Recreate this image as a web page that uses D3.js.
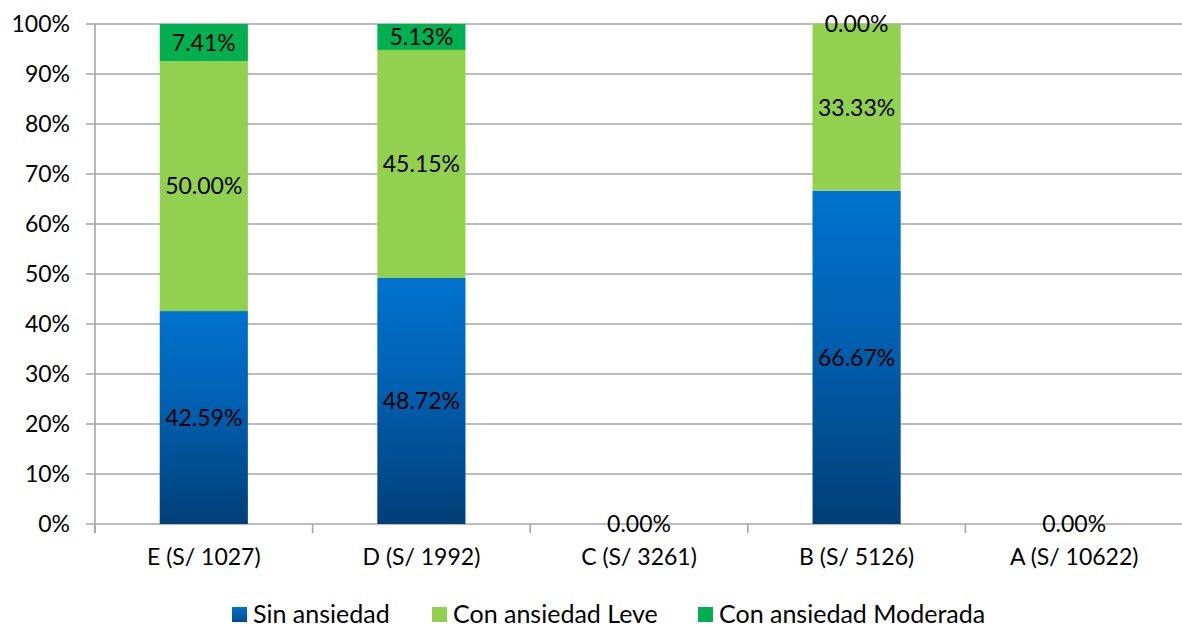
<!DOCTYPE html>
<html><head><meta charset="utf-8">
<script src="https://cdn.jsdelivr.net/npm/d3@7"></script>
<style>body{margin:0;background:#fff}svg{display:block}text{font-family:Lato,"Open Sans",sans-serif}</style>
</head><body><svg id="c" width="1182" height="627"></svg>
<script>
const categories = ["E (S/ 1027)","D (S/ 1992)","C (S/ 3261)","B (S/ 5126)","A (S/ 10622)"];
const seriesNames = ["Sin ansiedad","Con ansiedad Leve","Con ansiedad Moderada"];
const sinAnsiedad = [42.59, 48.72, 0, 66.67, 0];
const leve = [50.00, 45.15, 0, 33.33, 0];
const moderada = [7.41, 5.13, 0, 0.00, 0];
const yTicks = [0,10,20,30,40,50,60,70,80,90,100];
const showLabel = [[true,true,true,true,true],[true,true,false,true,false],[true,true,false,true,false]];

const svg = d3.select("#c");
const m = {l:95, r:1183, t:24, b:524};
const x = d3.scaleBand().domain(categories).range([m.l, m.r]).paddingInner(0.595).paddingOuter(0.2975);
const xb = d3.scaleBand().domain(categories).range([m.l, m.r]);
const y = d3.scaleLinear().domain([0,1]).range([m.b, m.t]);

const defs = svg.append("defs");
const g1 = defs.append("linearGradient").attr("id","gBlue").attr("x1",0).attr("y1",0).attr("x2",0).attr("y2",1);
g1.append("stop").attr("offset","0%").attr("stop-color","#0072CE");
g1.append("stop").attr("offset","40%").attr("stop-color","#0062B4");
g1.append("stop").attr("offset","100%").attr("stop-color","#003F78");
const gl = defs.append("linearGradient").attr("id","gLeg").attr("x1",0).attr("y1",0).attr("x2",0).attr("y2",1);
gl.append("stop").attr("offset","0%").attr("stop-color","#0072CE");
gl.append("stop").attr("offset","100%").attr("stop-color","#004A8A");

svg.append("g").selectAll("line").data(yTicks).join("line")
  .attr("x1", m.l-9).attr("x2", 1182).attr("y1", d=>y(d/100)).attr("y2", d=>y(d/100))
  .attr("stroke","#A6A6A6").attr("stroke-width",1.6);

svg.append("line").attr("x1",m.l).attr("x2",m.l).attr("y1",m.t).attr("y2",m.b+9).attr("stroke","#A6A6A6").attr("stroke-width",1.6);
svg.append("g").selectAll("line").data(categories).join("line")
  .attr("x1", d=>xb(d)).attr("x2", d=>xb(d)).attr("y1", m.b).attr("y2", m.b+9)
  .attr("stroke","#A6A6A6").attr("stroke-width",1.6);

svg.append("g").selectAll("text").data(yTicks).join("text")
  .attr("x", 70).attr("y", d=>y(d/100)).attr("dy","0.36em").attr("text-anchor","end")
  .attr("font-size",23).attr("fill","#000").text(d=>d+"%");

const rows = categories.map((c,i)=>({cat:c, s0:sinAnsiedad[i], s1:leve[i], s2:moderada[i]}));
const stack = d3.stack().keys(["s0","s1","s2"]).offset(d3.stackOffsetExpand)(rows);
const raw = [sinAnsiedad, leve, moderada];
const fills = ["url(#gBlue)","#92D050","#00B050"];

stack.forEach((layer,k)=>{
  svg.append("g").selectAll("rect").data(layer.filter(d=>!isNaN(d[1]))).join("rect")
    .attr("x", d=>x(d.data.cat)).attr("width", x.bandwidth())
    .attr("y", d=>y(d[1])).attr("height", d=>y(d[0])-y(d[1]))
    .attr("fill", fills[k]);
});
stack.forEach((layer,k)=>{
  svg.append("g").selectAll("text").data(layer.map((d,i)=>({d,i})).filter(o=>showLabel[k][o.i])).join("text")
    .attr("x", o=>x(o.d.data.cat)+x.bandwidth()/2)
    .attr("y", o=>isNaN(o.d[1]) ? y(0) : y((o.d[0]+o.d[1])/2)).attr("dy","0.36em")
    .attr("text-anchor","middle").attr("font-size",23).attr("fill","#000")
    .text(o=>raw[k][o.i].toFixed(2)+"%");
});

svg.append("g").selectAll("text").data(categories).join("text")
  .attr("x", d=>xb(d)+xb.bandwidth()/2).attr("y", 557).attr("dy","0.36em")
  .attr("text-anchor","middle").attr("font-size",23).attr("fill","#000").text(d=>d);

const legX = [232, 432, 698];
const legFill = ["url(#gLeg)","#92D050","#00B050"];
seriesNames.forEach((n,i)=>{
  svg.append("rect").attr("x",legX[i]).attr("y",607).attr("width",15).attr("height",15).attr("fill",legFill[i]);
  svg.append("text").attr("x",legX[i]+21).attr("y",614).attr("dy","0.36em").attr("font-size",25).attr("fill","#000").text(n);
});
</script></body></html>
